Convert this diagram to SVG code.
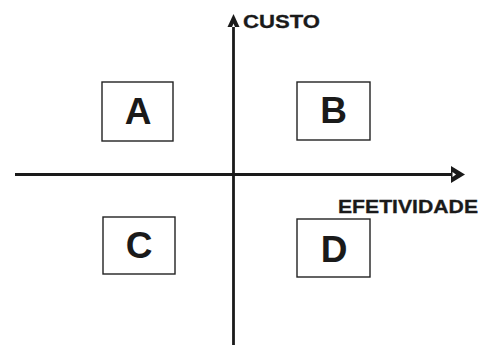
<svg xmlns="http://www.w3.org/2000/svg" width="488" height="345" viewBox="0 0 488 345">
<style>
.box{fill:#fff;stroke:#222;stroke-width:1.4}
.big{font-family:"Liberation Sans",Arial,sans-serif;font-weight:bold;font-size:37px;fill:#1a1a1a;text-anchor:middle}
.lbl{font-family:"Liberation Sans",Arial,sans-serif;font-weight:bold;font-size:19px;fill:#1a1a1a;stroke:#1a1a1a;stroke-width:0.3}
.axis{stroke:#1a1a1a;stroke-width:2.8;fill:none}
</style>
<rect width="488" height="345" fill="#fff"/>
<g id="connectors">
<line class="axis" x1="15" y1="174.5" x2="452" y2="174.5"/>
<polygon points="451,166 465,174.5 451,183" fill="#1a1a1a"/>
<polygon points="452.5,172 456,174.5 452.5,177" fill="#fff"/>
<line class="axis" x1="233.5" y1="24" x2="233.5" y2="345"/>
<polygon points="227.5,27 233.5,14 239.5,27" fill="#1a1a1a"/>
<polygon points="232,27 233.5,23.5 235,27" fill="#fff"/>
</g>
<g id="label-custo"><text class="lbl" x="243" y="28" textLength="77" lengthAdjust="spacingAndGlyphs">CUSTO</text></g>
<g id="label-efetividade"><text class="lbl" x="338" y="213" textLength="140" lengthAdjust="spacingAndGlyphs">EFETIVIDADE</text></g>
<g id="node-A"><rect class="box" x="102" y="82" width="71" height="59"/><text class="big" x="138" y="124">A</text></g>
<g id="node-B"><rect class="box" x="297" y="82" width="73" height="58"/><text class="big" x="333.5" y="123">B</text></g>
<g id="node-C"><rect class="box" x="103" y="217" width="72" height="57"/><text class="big" x="139" y="258">C</text></g>
<g id="node-D"><rect class="box" x="297" y="219" width="73" height="58"/><text class="big" x="334" y="262">D</text></g>
</svg>
